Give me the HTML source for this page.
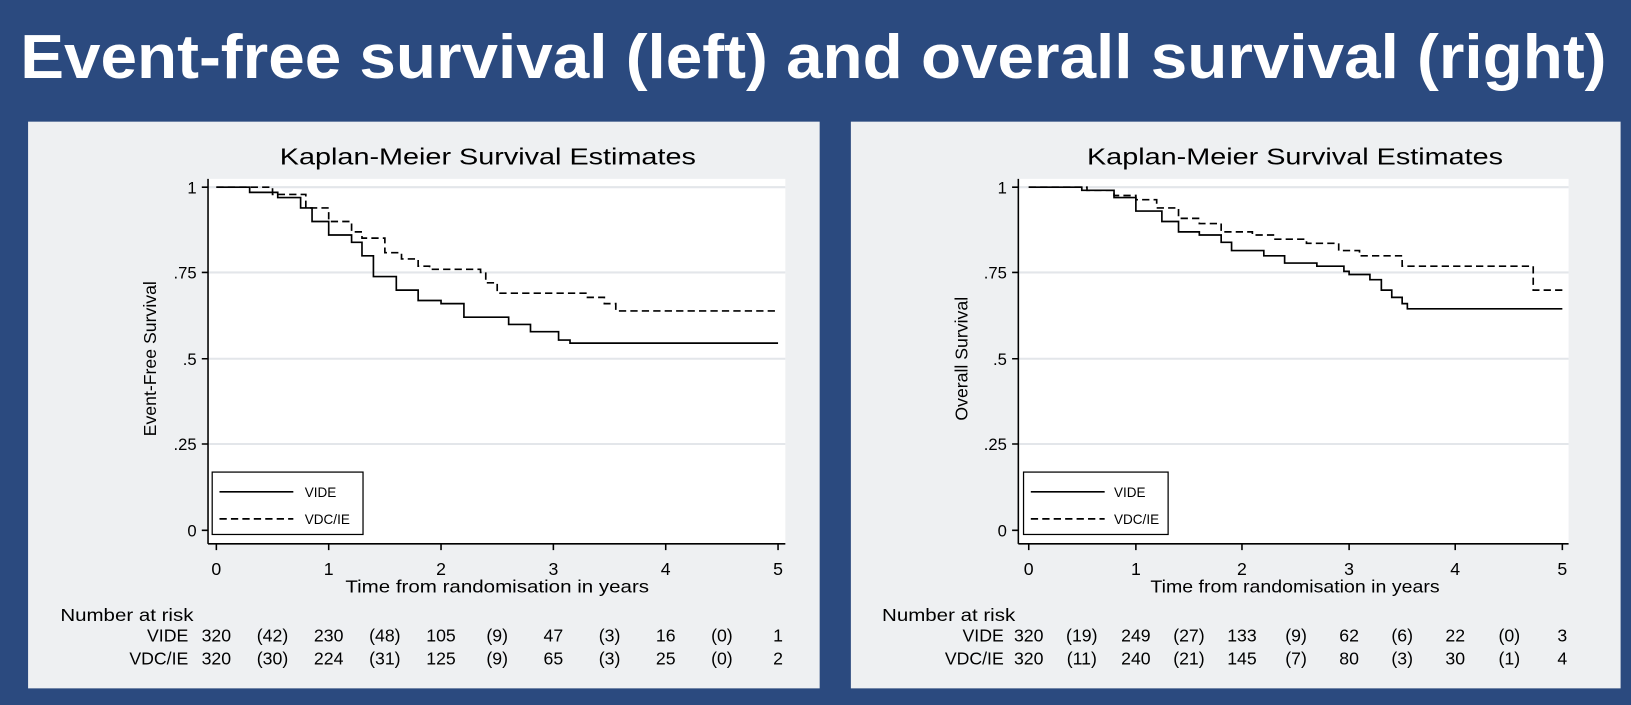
<!DOCTYPE html>
<html><head><meta charset="utf-8"><style>html,body{margin:0;padding:0;background:#2b4a7f}svg{display:block}</style></head>
<body>
<svg width="1631" height="705" viewBox="0 0 1568 678" preserveAspectRatio="none" xmlns="http://www.w3.org/2000/svg" font-family="Liberation Sans, sans-serif">
<rect width="1568" height="678" fill="#2b4a7f"/>
<text x="782" y="75" fill="#fff" font-size="60" font-weight="bold" text-anchor="middle" textLength="1525" lengthAdjust="spacingAndGlyphs">Event-free survival (left) and overall survival (right)</text>

<!-- LEFT PANEL -->
<rect x="27" y="117" width="761" height="545" fill="#eef0f2"/>
<rect x="200" y="172" width="555" height="351" fill="#fff"/>
<g stroke="#e3e6ea" stroke-width="2">
<line x1="200" y1="180" x2="755" y2="180"/><line x1="200" y1="262" x2="755" y2="262"/><line x1="200" y1="345" x2="755" y2="345"/><line x1="200" y1="427" x2="755" y2="427"/>
</g>
<g stroke="#000" stroke-width="1.5" fill="none">
<line x1="200" y1="172" x2="200" y2="523"/><line x1="200" y1="523" x2="755" y2="523"/>
<path d="M194,180H200M194,262H200M194,345H200M194,427H200M194,510H200"/>
<path d="M208,523V529M316,523V529M424,523V529M532,523V529M640,523V529M748,523V529"/>
</g>
<text x="469" y="158" font-size="22" text-anchor="middle" textLength="400" lengthAdjust="spacingAndGlyphs">Kaplan-Meier Survival Estimates</text>
<g font-size="16" text-anchor="end"><text x="189" y="186">1</text><text x="189" y="268">.75</text><text x="189" y="351">.5</text><text x="189" y="433">.25</text><text x="189" y="516">0</text></g>
<text transform="translate(150,345) rotate(-90)" font-size="17" text-anchor="middle">Event-Free Survival</text>
<g font-size="17" text-anchor="middle"><text x="208" y="553">0</text><text x="316" y="553">1</text><text x="424" y="553">2</text><text x="532" y="553">3</text><text x="640" y="553">4</text><text x="748" y="553">5</text></g>
<text x="478" y="570" font-size="17" text-anchor="middle" textLength="292" lengthAdjust="spacingAndGlyphs">Time from randomisation in years</text>
<path fill="none" stroke="#000" stroke-width="1.6" d="M208,180H240V185H267V190H289V200H300V213H316V226H338V233H348V246H359V266H381V279H402V289H424V292H446V305H489V312H510V319H537V327H548V330H748"/>
<path fill="none" stroke="#000" stroke-width="1.6" stroke-dasharray="7,4" d="M208,180H262V187H294V200H316V213H338V223H348V229H370V243H386V249H402V256H413V259H462V262H467V272H478V282H564V286H581V292H592V299H748"/>
<rect x="204" y="454" width="145" height="60" fill="#fff" stroke="#000" stroke-width="1.2"/>
<line x1="211" y1="473" x2="282" y2="473" stroke="#000" stroke-width="1.6"/>
<line x1="211" y1="499" x2="282" y2="499" stroke="#000" stroke-width="1.6" stroke-dasharray="7,4"/>
<text x="293" y="478" font-size="13">VIDE</text><text x="293" y="504" font-size="13">VDC/IE</text>
<text x="58" y="597" font-size="17" textLength="128" lengthAdjust="spacingAndGlyphs">Number at risk</text>
<g font-size="17" text-anchor="end"><text x="181" y="617">VIDE</text><text x="181" y="639">VDC/IE</text></g>
<g font-size="17" text-anchor="middle">
<text y="617"><tspan x="208">320</tspan><tspan x="262">(42)</tspan><tspan x="316">230</tspan><tspan x="370">(48)</tspan><tspan x="424">105</tspan><tspan x="478">(9)</tspan><tspan x="532">47</tspan><tspan x="586">(3)</tspan><tspan x="640">16</tspan><tspan x="694">(0)</tspan><tspan x="748">1</tspan></text>
<text y="639"><tspan x="208">320</tspan><tspan x="262">(30)</tspan><tspan x="316">224</tspan><tspan x="370">(31)</tspan><tspan x="424">125</tspan><tspan x="478">(9)</tspan><tspan x="532">65</tspan><tspan x="586">(3)</tspan><tspan x="640">25</tspan><tspan x="694">(0)</tspan><tspan x="748">2</tspan></text>
</g>

<!-- RIGHT PANEL -->
<rect x="818" y="117" width="740" height="545" fill="#eef0f2"/>
<rect x="979" y="172" width="529" height="351" fill="#fff"/>
<g stroke="#e3e6ea" stroke-width="2">
<line x1="979" y1="180" x2="1508" y2="180"/><line x1="979" y1="262" x2="1508" y2="262"/><line x1="979" y1="345" x2="1508" y2="345"/><line x1="979" y1="427" x2="1508" y2="427"/>
</g>
<g stroke="#000" stroke-width="1.5" fill="none">
<line x1="979" y1="172" x2="979" y2="523"/><line x1="979" y1="523" x2="1508" y2="523"/>
<path d="M973,180H979M973,262H979M973,345H979M973,427H979M973,510H979"/>
<path d="M989,523V529M1092,523V529M1194,523V529M1297,523V529M1399,523V529M1502,523V529"/>
</g>
<text x="1245" y="158" font-size="22" text-anchor="middle" textLength="400" lengthAdjust="spacingAndGlyphs">Kaplan-Meier Survival Estimates</text>
<g font-size="16" text-anchor="end"><text x="968" y="186">1</text><text x="968" y="268">.75</text><text x="968" y="351">.5</text><text x="968" y="433">.25</text><text x="968" y="516">0</text></g>
<text transform="translate(930,345) rotate(-90)" font-size="17" text-anchor="middle">Overall Survival</text>
<g font-size="17" text-anchor="middle"><text x="989" y="553">0</text><text x="1092" y="553">1</text><text x="1194" y="553">2</text><text x="1297" y="553">3</text><text x="1399" y="553">4</text><text x="1502" y="553">5</text></g>
<text x="1245" y="570" font-size="17" text-anchor="middle" textLength="278" lengthAdjust="spacingAndGlyphs">Time from randomisation in years</text>
<path fill="none" stroke="#000" stroke-width="1.6" d="M989,180H1040V183H1071V190H1092V203H1117V213H1133V223H1153V226H1174V233H1184V241H1215V246H1235V253H1266V256H1292V261H1297V264H1317V269H1328V279H1338V286H1348V292H1353V297H1502"/>
<path fill="none" stroke="#000" stroke-width="1.6" stroke-dasharray="7,4" d="M989,180H1045V183H1071V188H1092V192H1112V200H1133V210H1153V215H1174V223H1204V226H1225V230H1256V234H1287V241H1307V246H1348V256H1474V279H1502"/>
<rect x="984" y="454" width="139" height="60" fill="#fff" stroke="#000" stroke-width="1.2"/>
<line x1="991" y1="473" x2="1062" y2="473" stroke="#000" stroke-width="1.6"/>
<line x1="991" y1="499" x2="1062" y2="499" stroke="#000" stroke-width="1.6" stroke-dasharray="7,4"/>
<text x="1071" y="478" font-size="13">VIDE</text><text x="1071" y="504" font-size="13">VDC/IE</text>
<text x="848" y="597" font-size="17" textLength="128" lengthAdjust="spacingAndGlyphs">Number at risk</text>
<g font-size="17" text-anchor="end"><text x="965" y="617">VIDE</text><text x="965" y="639">VDC/IE</text></g>
<g font-size="17" text-anchor="middle">
<text y="617"><tspan x="989">320</tspan><tspan x="1040">(19)</tspan><tspan x="1092">249</tspan><tspan x="1143">(27)</tspan><tspan x="1194">133</tspan><tspan x="1246">(9)</tspan><tspan x="1297">62</tspan><tspan x="1348">(6)</tspan><tspan x="1399">22</tspan><tspan x="1451">(0)</tspan><tspan x="1502">3</tspan></text>
<text y="639"><tspan x="989">320</tspan><tspan x="1040">(11)</tspan><tspan x="1092">240</tspan><tspan x="1143">(21)</tspan><tspan x="1194">145</tspan><tspan x="1246">(7)</tspan><tspan x="1297">80</tspan><tspan x="1348">(3)</tspan><tspan x="1399">30</tspan><tspan x="1451">(1)</tspan><tspan x="1502">4</tspan></text>
</g>
</svg>
</body></html>
